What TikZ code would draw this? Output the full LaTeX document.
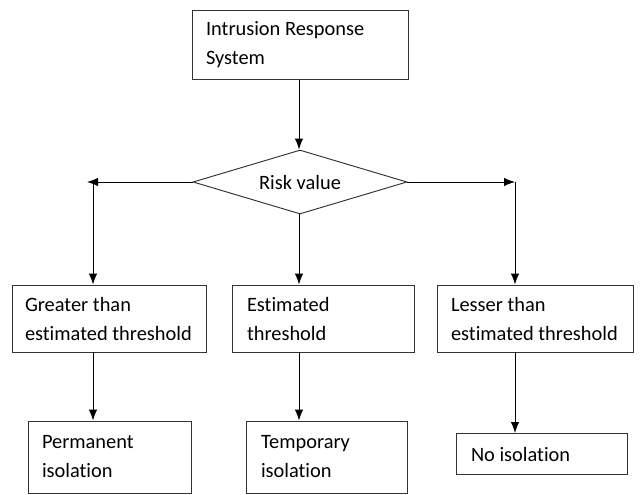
\documentclass[tikz,border=0pt]{standalone}
\usepackage{fontspec}
\setmainfont[Ligatures=NoCommon]{Carlito}
\usetikzlibrary{shapes.geometric,arrows.meta}
\begin{document}
\begin{tikzpicture}[x=1pt,y=-1pt,
  box/.style={draw=black!80, line width=0.95pt, rectangle, inner sep=0pt, align=flush left,
    font=\fontsize{20.4}{29}\selectfont},
  arr/.style={line width=0.95pt, -{Latex[length=11pt,width=8.5pt]}}]
\useasboundingbox (0,0) rectangle (640,495);
\node[box, minimum width=216pt, minimum height=69pt, text width=188pt] (irs) at (300,45) {Intrusion Response\\System};
\node[draw=black!80, line width=0.95pt, diamond, aspect=3.34, minimum width=214pt, minimum height=64pt, inner sep=0pt,
  font=\fontsize{20.4}{29}\selectfont] (risk) at (300,182) {Risk value};
\node[box, minimum width=194pt, minimum height=67pt, text width=168pt] (gtr) at (109,318.5) {Greater than\\estimated threshold};
\node[box, minimum width=182pt, minimum height=67pt, text width=152pt] (est) at (323,318.5) {Estimated\\threshold};
\node[box, minimum width=196pt, minimum height=67pt, text width=168pt] (les) at (535,318.5) {Lesser than\\estimated threshold};
\node[box, minimum width=163pt, minimum height=72pt, text width=135pt] (perm) at (109.5,457) {Permanent\\isolation};
\node[box, minimum width=161pt, minimum height=72pt, text width=131pt] (temp) at (326.5,457) {Temporary\\isolation};
\node[box, minimum width=171pt, minimum height=41pt, text width=141pt] (noiso) at (541.5,454) {No isolation};
\coordinate (ltip) at (87,182);
\coordinate (lcorner) at (93,182);
\coordinate (rcorner) at (515,182);
\coordinate (mid) at (299,182);
\draw[arr] (irs.south -| mid) -- (risk.north -| mid);
\draw[arr] (risk.west) -- (ltip);
\draw[arr] (lcorner) -- (lcorner |- gtr.north);
\draw[arr] (risk.east) -- (rcorner);
\draw[arr] (rcorner) -- (rcorner |- les.north);
\draw[arr] (risk.south -| mid) -- (mid |- est.north);
\draw[arr] (lcorner |- gtr.south) -- (lcorner |- perm.north);
\draw[arr] (mid |- est.south) -- (mid |- temp.north);
\draw[arr] (rcorner |- les.south) -- (rcorner |- noiso.north);
\end{tikzpicture}
\end{document}
